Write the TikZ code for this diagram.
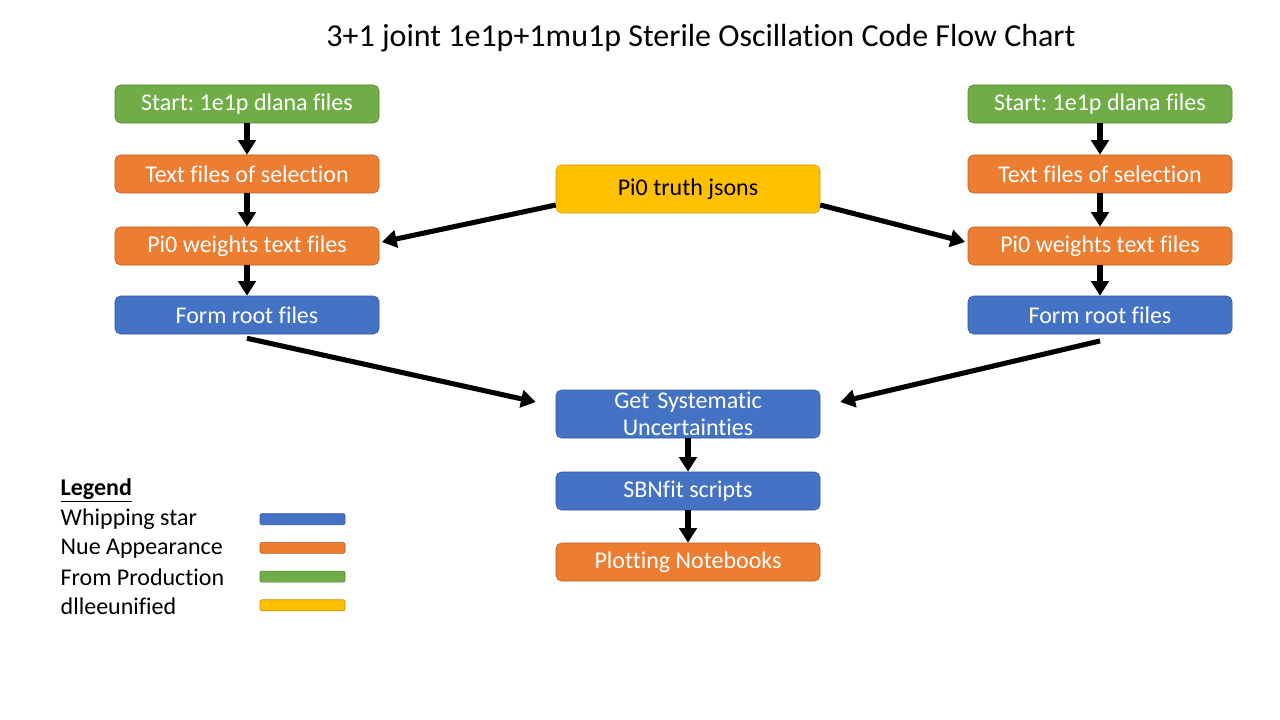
\documentclass[tikz,border=0pt]{standalone}
\usepackage{fontspec}
\setmainfont{Carlito}[Ligatures=NoCommon]
\frenchspacing
\usetikzlibrary{arrows.meta}
\definecolor{wsblue}{HTML}{4472C4}
\definecolor{nueorange}{HTML}{ED7D31}
\definecolor{prodgreen}{HTML}{70AD47}
\definecolor{dlyellow}{HTML}{FFC000}
\begin{document}
\begin{tikzpicture}[x=0.75pt, y=-0.75pt,
  box/.style={rounded corners=4pt, minimum width=198pt, minimum height=28.5pt, inner sep=1pt,
    text=white, font=\fontsize{18}{21.6}\selectfont, align=center},
  wsbox/.style={box, fill=wsblue, draw=wsblue!75!black},
  nuebox/.style={box, fill=nueorange, draw=nueorange!75!black},
  prodbox/.style={box, fill=prodgreen, draw=prodgreen!75!black},
  dlbox/.style={box, fill=dlyellow, draw=dlyellow!80!black, text=black},
  flow/.style={line width=3.8pt, -{Triangle[length=11pt,width=13pt]}},
  swatch/.style={rounded corners=1.5pt, line width=0.5pt}]
  \useasboundingbox (0,0) rectangle (1280,720);
  \node[font=\fontsize{24}{28}\selectfont] (title) at (701,38) {3+1 joint 1e1p+1mu1p Sterile Oscillation Code Flow Chart};

  % left chain
  \node[prodbox] (lstart) at (247,104) {Start: 1e1p dlana files};
  \node[nuebox] (lsel) at (247,174) {Text files of selection};
  \node[nuebox] (lwts) at (247,246) {Pi0 weights text files};
  \node[wsbox] (lroot) at (247,315) {Form root files};
  % right chain
  \node[prodbox] (rstart) at (1100,104) {Start: 1e1p dlana files};
  \node[nuebox] (rsel) at (1100,174) {Text files of selection};
  \node[nuebox] (rwts) at (1100,246) {Pi0 weights text files};
  \node[wsbox] (rroot) at (1100,315) {Form root files};
  % middle
  \node[dlbox, minimum height=36pt] (truth) at (688,189) {Pi0 truth jsons};
  \node[wsbox, minimum height=36pt, text width=190pt] (sys) at (688,414) {Get Systematic\\[-1pt]Uncertainties};
  \node[wsbox] (sbn) at (688,491) {SBNfit scripts};
  \node[nuebox] (plots) at (688,562) {Plotting Notebooks};

  \draw[flow] (lstart) -- (lsel);
  \draw[flow] (lsel) -- (lwts);
  \draw[flow] (lwts) -- (lroot);
  \draw[flow] (rstart) -- (rsel);
  \draw[flow] (rsel) -- (rwts);
  \draw[flow] (rwts) -- (rroot);
  \draw[flow] ([yshift=-12]truth.west) -- ([xshift=2,yshift=3]lwts.east);
  \draw[flow] ([yshift=-12]truth.east) -- ([xshift=-2,yshift=3]rwts.west);
  \draw[flow] ([yshift=-3]lroot.south) -- ([xshift=-15,yshift=9]sys.west);
  \draw[flow] ([yshift=-5]rroot.south) -- ([xshift=15,yshift=9]sys.east);
  \draw[flow] (sys) -- (sbn);
  \draw[flow] (sbn) -- (plots);

  % legend
  \node[anchor=west, font=\fontsize{18}{21.6}\selectfont\bfseries] (leg) at (56,490) {\underline{Legend}};
  \foreach \txt/\col [count=\i] in {Whipping star/wsblue, Nue Appearance/nueorange, From Production/prodgreen, dlleeunified/dlyellow}{
    \node[anchor=west, font=\fontsize{18}{21.6}\selectfont] (leg\i) at (56,491+28.7*\i) {\txt};
    \draw[swatch, fill=\col, draw=\col!75!black] (260,485+28.7*\i) rectangle (345,496+28.7*\i);
  }
\end{tikzpicture}
\end{document}
